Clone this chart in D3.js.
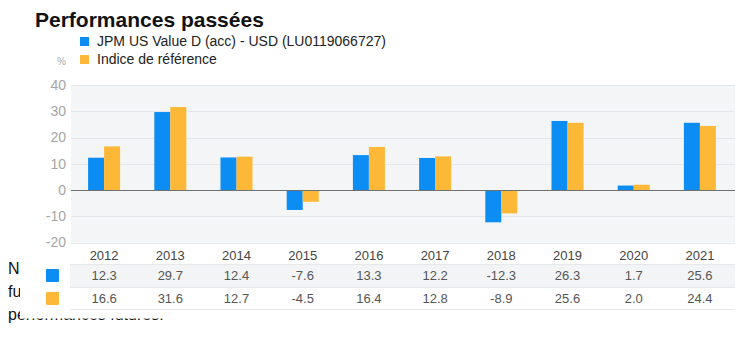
<!DOCTYPE html>
<html>
<head>
<meta charset="utf-8">
<script src="https://cdn.jsdelivr.net/npm/d3@7"></script>
<style>
  body { margin: 0; background: #fff; }
  svg { display: block; font-family: "Liberation Sans", Arial, sans-serif; }
</style>
</head>
<body>
<script>
// data
var years = ["2012","2013","2014","2015","2016","2017","2018","2019","2020","2021"];
var fundValues = [12.3, 29.7, 12.4, -7.6, 13.3, 12.2, -12.3, 26.3, 1.7, 25.6];
var indexValues = [16.6, 31.6, 12.7, -4.5, 16.4, 12.8, -8.9, 25.6, 2.0, 24.4];
var seriesNames = ["JPM US Value D (acc) - USD (LU0119066727)", "Indice de référence"];
var seriesColors = ["#0b8df4", "#fdb837"];
var yTicks = [40, 30, 20, 10, 0, -10, -20];
// only the pieces of the page text that peek out from behind the widget
var noteLines = ["N", "fu", "performances futures."];

var width = 743, height = 354;

var svg = d3.select("body").append("svg")
    .attr("width", width)
    .attr("height", height);

svg.append("clipPath").attr("id", "leftcut")
  .append("rect")
    .attr("x", 0).attr("y", 0)
    .attr("width", 20).attr("height", 354);

// text of the page behind the widget
svg.append("g").selectAll("text")
    .data(noteLines)
  .enter().append("text")
    .attr("x", 8)
    .attr("y", function(d, i) { return 274 + i * 23; })
    .attr("font-size", 16)
    .attr("fill", "#111")
    .attr("clip-path", function(d, i) { return i == 1 ? "url(#leftcut)" : null; })
    .text(function(d) { return d; });

// white widget panel on top
svg.append("rect")
    .attr("x", 20).attr("y", 0)
    .attr("width", width - 20).attr("height", 318.5)
    .attr("fill", "#fff");

// title
svg.append("text")
    .attr("x", 35).attr("y", 27)
    .attr("font-size", 21)
    .attr("font-weight", 700)
    .attr("fill", "#111")
    .text("Performances passées");

// legend
var legend = svg.append("g").selectAll("g")
    .data(seriesNames)
  .enter().append("g")
    .attr("transform", function(d, i) { return "translate(80," + (37 + i * 18) + ")"; });

legend.append("rect")
    .attr("width", 9).attr("height", 9)
    .attr("fill", function(d, i) { return seriesColors[i]; });

legend.append("text")
    .attr("x", 17).attr("y", 9)
    .attr("font-size", 14)
    .attr("fill", "#222")
    .text(function(d) { return d; });

svg.append("text")
    .attr("x", 57).attr("y", 65)
    .attr("font-size", 10)
    .attr("fill", "#aaa")
    .text("%");

// scales
var x0 = d3.scaleBand()
    .domain(years)
    .range([71, 733]);

var bw = x0.bandwidth();
var x1 = d3.scaleBand()
    .domain([0, 1])
    .range([bw / 2 - 16, bw / 2 + 16]);

var y = d3.scaleLinear()
    .domain([-20, 40])
    .range([242.5, 85]);

// plot background
svg.append("rect")
    .attr("x", 71).attr("y", y(40))
    .attr("width", 664).attr("height", y(-20) - y(40))
    .attr("fill", "#f4f5f7");

// grid
svg.append("g").selectAll("line")
    .data(yTicks)
  .enter().append("line")
    .attr("x1", 71).attr("x2", 735)
    .attr("y1", function(d) { return Math.round(y(d)) + 0.5; })
    .attr("y2", function(d) { return Math.round(y(d)) + 0.5; })
    .attr("stroke", "#e4e6ea")
    .attr("stroke-width", 1);

// y labels
svg.append("g").selectAll("text")
    .data(yTicks)
  .enter().append("text")
    .attr("x", 66)
    .attr("y", function(d) { return y(d); })
    .attr("dy", "0.35em")
    .attr("text-anchor", "end")
    .attr("font-size", 14)
    .attr("fill", "#a5a5a5")
    .text(function(d) { return d; });

// bars
var rows = years.map(function(yr, i) { return { year: yr, vals: [fundValues[i], indexValues[i]] }; });

var group = svg.append("g").selectAll("g")
    .data(rows)
  .enter().append("g")
    .attr("transform", function(d) { return "translate(" + x0(d.year) + ",0)"; });

group.selectAll("rect")
    .data(function(d) { return d.vals.map(function(v, k) { return { k: k, v: v }; }); })
  .enter().append("rect")
    .attr("x", function(d) { return x1(d.k); })
    .attr("width", x1.bandwidth())
    .attr("y", function(d) { return y(Math.max(0, d.v)); })
    .attr("height", function(d) { return Math.abs(y(d.v) - y(0)); })
    .attr("fill", function(d) { return seriesColors[d.k]; });

// zero line
svg.append("line")
    .attr("x1", 71).attr("x2", 735)
    .attr("y1", Math.round(y(0)) + 0.5).attr("y2", Math.round(y(0)) + 0.5)
    .attr("stroke", "#707070")
    .attr("stroke-width", 1.2);

// table
var rowTop = [264, 287];
svg.append("rect")
    .attr("x", 70).attr("y", rowTop[0])
    .attr("width", 665).attr("height", 23)
    .attr("fill", "#f3f4f6");

[264, 287, 309].forEach(function(ly) {
  svg.append("line")
      .attr("x1", 70).attr("x2", 735)
      .attr("y1", ly + 0.5).attr("y2", ly + 0.5)
      .attr("stroke", "#e6e8eb");
});

// years header
svg.append("g").selectAll("text")
    .data(years)
  .enter().append("text")
    .attr("x", function(d) { return x0(d) + bw / 2; })
    .attr("y", 255)
    .attr("dy", "0.35em")
    .attr("text-anchor", "middle")
    .attr("font-size", 13)
    .attr("fill", "#444")
    .text(function(d) { return d; });

var tableSeries = [fundValues, indexValues];
tableSeries.forEach(function(vals, k) {
  var cy = rowTop[k] + 11.5;
  svg.append("rect")
      .attr("x", 46).attr("y", cy - 6.5)
      .attr("width", 13).attr("height", 13)
      .attr("rx", 1)
      .attr("fill", seriesColors[k]);

  svg.append("g").selectAll("text")
      .data(vals)
    .enter().append("text")
      .attr("x", function(d, i) { return x0(years[i]) + bw / 2; })
      .attr("y", cy)
      .attr("dy", "0.35em")
      .attr("text-anchor", "middle")
      .attr("font-size", 13)
      .attr("fill", "#555")
      .text(function(d) { return d.toFixed(1); });
});
</script>
</body>
</html>
